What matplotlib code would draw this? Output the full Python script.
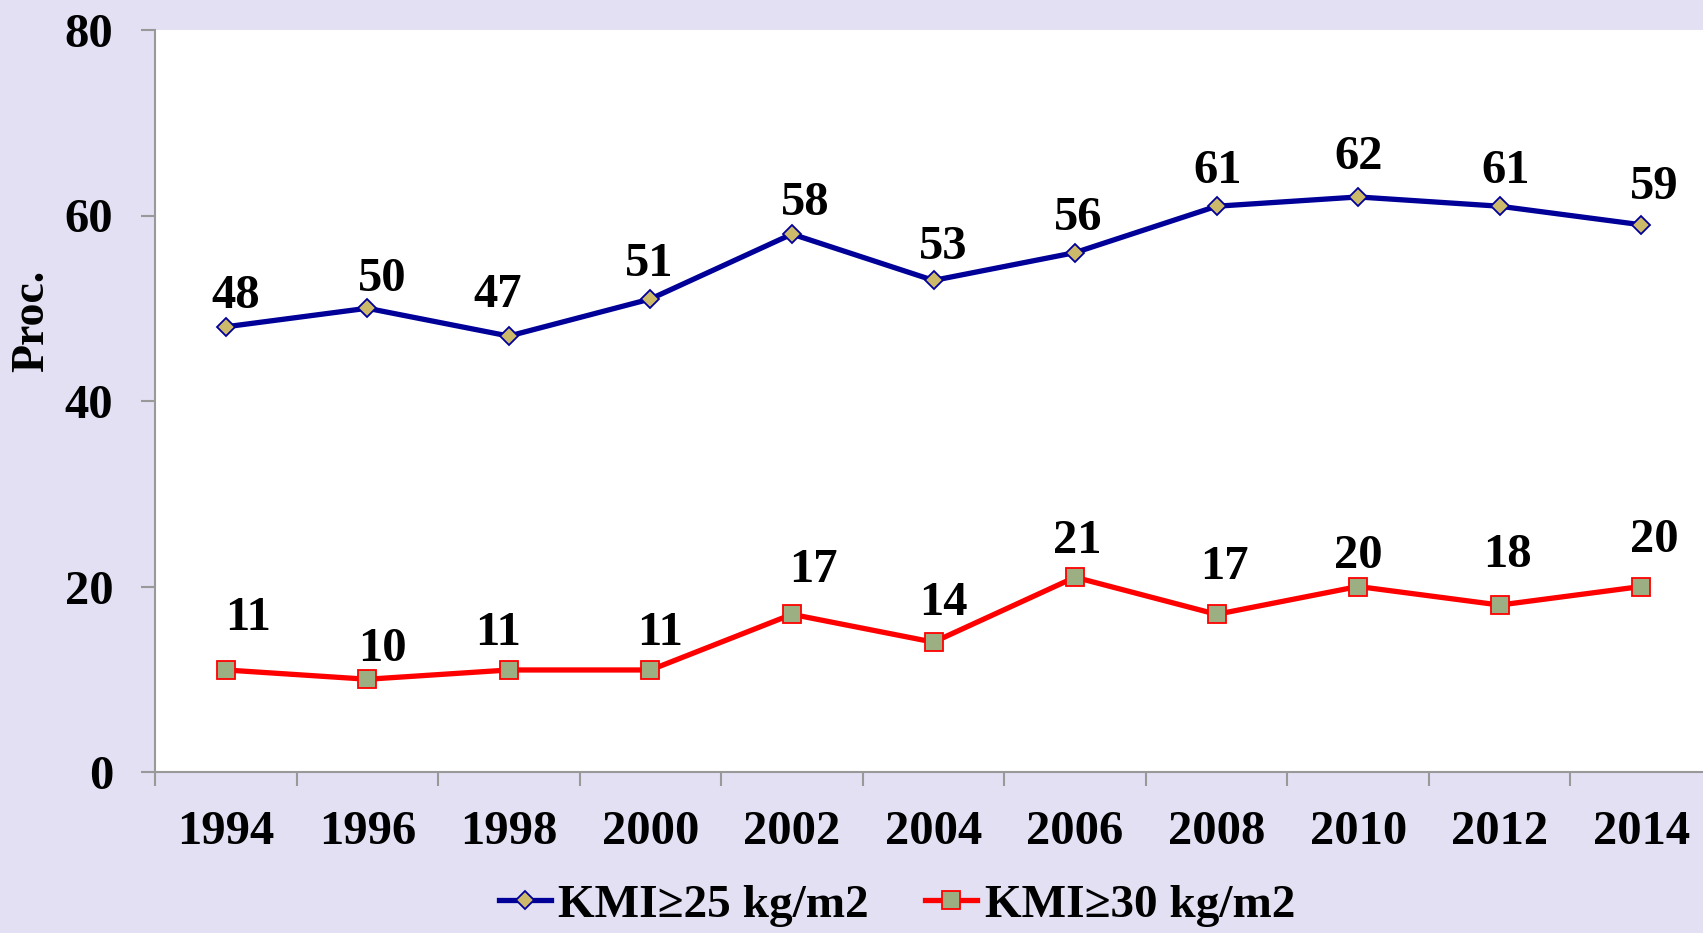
import matplotlib
matplotlib.use("Agg")
import matplotlib.pyplot as plt
import numpy as np

years = ["1994", "1996", "1998", "2000", "2002", "2004", "2006", "2008", "2010", "2012", "2014"]
kmi25 = [48, 50, 47, 51, 58, 53, 56, 61, 62, 61, 59]
kmi30 = [11, 10, 11, 11, 17, 14, 21, 17, 20, 18, 20]
label25 = "KMI≥25 kg/m2"
label30 = "KMI≥30 kg/m2"
ylabel = "Proc."
yticks = [0, 20, 40, 60, 80]

# label offsets (pixels) imitating manual placement
off25 = [(10, 31), (15, 29), (-11, 41), (-1, 35), (13, 31), (10, 33), (3, 35), (1, 35), (0, 40), (6, 35), (13, 38)]
off30 = [(22, 52), (15, 30), (-11, 37), (10, 37), (21, 44), (10, 39), (2, 36), (8, 47), (0, 30), (8, 50), (13, 46)]

BG = "#E3E0F3"
FONT = ["Liberation Serif", "DejaVu Serif"]
plt.rcParams["font.family"] = FONT
plt.rcParams["font.weight"] = "bold"

fig = plt.figure(figsize=(17.03, 9.33), dpi=100, facecolor=BG)
W, H = 1703, 933
left, right, bottom, top = 155, 1712, 772, 30
ax = fig.add_axes([left / W, 1 - bottom / H, (right - left) / W, (bottom - top) / H])
ax.set_facecolor("white")

x = np.arange(len(years))
ax.plot(x, kmi25, color="#000099", lw=3.8, marker="D", ms=9.5,
        markerfacecolor="#CDB96A", markeredgecolor="#000099", markeredgewidth=1.3,
        label=label25, zorder=3)
ax.plot(x, kmi30, color="#FF0000", lw=3.8, marker="s", ms=13,
        markerfacecolor="#9BAF83", markeredgecolor="#FF0000", markeredgewidth=1.3,
        label=label30, zorder=3)

for xi, v, o in zip(x, kmi25, off25):
    ax.annotate(str(v), (xi, v), xytext=o, textcoords="offset pixels",
                ha="center", va="center", fontsize=35, fontweight="bold", color="black")
for xi, v, o in zip(x, kmi30, off30):
    ax.annotate(str(v), (xi, v), xytext=o, textcoords="offset pixels",
                ha="center", va="center", fontsize=35, fontweight="bold", color="black")

ax.set_xlim(-0.5, len(years) - 0.5)
ax.set_ylim(0, 80)
ax.set_yticks(yticks)
ax.set_yticklabels([str(t) for t in yticks], fontsize=35, fontweight="bold")
ax.set_xticks(x)
ax.set_xticklabels(years, fontsize=35, fontweight="bold")
ax.set_xticks(np.arange(-0.5, len(years), 1.0), minor=True)
ax.tick_params(axis="x", which="major", length=0, pad=27)
ax.tick_params(axis="x", which="minor", length=10, width=1.5, color="#999999", direction="out")
ax.tick_params(axis="y", which="major", length=10, width=1.5, color="#999999", direction="out", pad=20)

for s in ["top", "right"]:
    ax.spines[s].set_visible(False)
for s in ["left", "bottom"]:
    ax.spines[s].set_color("#999999")
    ax.spines[s].set_linewidth(1.5)

fig.text(32 / W, 1 - 321 / H, ylabel, rotation=90, ha="center", va="center",
         fontsize=33, fontweight="bold")

leg = fig.legend(loc="center", bbox_to_anchor=(826 * 1.086 / W, 1 - 905 / H),
                 ncol=2, frameon=False, numpoints=1, handlelength=1.1,
                 handletextpad=0.15, columnspacing=1.2,
                 prop={"family": FONT, "weight": "bold", "size": 34})

fig.savefig("out.png", dpi=100, facecolor=BG)
